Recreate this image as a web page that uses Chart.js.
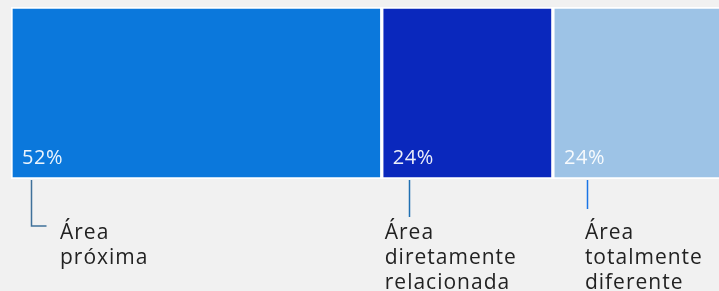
<!DOCTYPE html>
<html>
<head>
<meta charset="utf-8">
<script src="https://cdn.jsdelivr.net/npm/chart.js@4/dist/chart.umd.min.js"></script>
<style>
  html, body { margin: 0; padding: 0; background: #f1f1f1; overflow: hidden; width: 719px; height: 291px; }
  #wrap { width: 725px; height: 291px; }
</style>
</head>
<body>
<div id="wrap"><canvas id="c" width="725" height="291"></canvas></div>
<script>
const categories = ['Área próxima', 'Área diretamente relacionada', 'Área totalmente diferente'];
const values = [52, 24, 24];
const valueLabels = ['52%', '24%', '24%'];
const annotationLines = [['Área', 'próxima'], ['Área', 'diretamente', 'relacionada'], ['Área', 'totalmente', 'diferente']];
const colors = ['#0b78dc', '#0a28bd', '#9dc3e6'];
const leaderColors = ['#3f719a', '#1f6fb2', '#1a74e6'];

const annotPlugin = {
  id: 'annot',
  afterDatasetsDraw(chart) {
    const ctx = chart.ctx;
    const leader = [
      { dx: 20, y2: 226, elbow: 15, tx: 49 },
      { dx: 27, y2: 217, elbow: 0, tx: 3 },
      { dx: 34, y2: 209, elbow: 0, tx: 32 }
    ];
    chart.data.datasets.forEach((ds, i) => {
      const bar = chart.getDatasetMeta(i).data[0];
      const left = Math.min(bar.x, bar.base);
      const bottom = bar.y + bar.height / 2;
      ctx.save();
      // percent label
      ctx.fillStyle = 'rgba(255,255,255,0.92)';
      ctx.font = '500 20px "Open Sans"';
      ctx.letterSpacing = '0.6px';
      ctx.textBaseline = 'alphabetic';
      ctx.fillText(valueLabels[i], left + 11, bottom - 15);
      // leader line
      const L = leader[i];
      const lx = Math.round(left + L.dx) + 0.5;
      ctx.strokeStyle = leaderColors[i];
      ctx.lineWidth = 1.5;
      ctx.beginPath();
      ctx.moveTo(lx, bottom + 1);
      ctx.lineTo(lx, L.y2);
      if (L.elbow) ctx.lineTo(lx + L.elbow, L.y2);
      ctx.stroke();
      // annotation text
      ctx.fillStyle = '#222222';
      ctx.font = '21px "Open Sans"';
      ctx.letterSpacing = '1px';
      annotationLines[i].forEach((t, k) => {
        ctx.fillText(t, left + L.tx, 239 + k * 25);
      });
      ctx.restore();
    });
  }
};

new Chart(document.getElementById('c'), {
  type: 'bar',
  data: {
    labels: [''],
    datasets: categories.map((name, i) => ({
      label: name,
      data: [values[i]],
      backgroundColor: colors[i],
      borderColor: '#ffffff',
      borderWidth: 2,
      borderSkipped: false,
      barPercentage: 1,
      categoryPercentage: 1
    }))
  },
  options: {
    indexAxis: 'y',
    responsive: false,
    animation: false,
    layout: { padding: { left: 11, right: 1, top: 7, bottom: 112 } },
    scales: {
      x: { stacked: true, display: false, min: 0, max: 100 },
      y: { stacked: true, display: false }
    },
    plugins: { legend: { display: false }, tooltip: { enabled: false } }
  },
  plugins: [annotPlugin]
});
</script>
</body>
</html>
